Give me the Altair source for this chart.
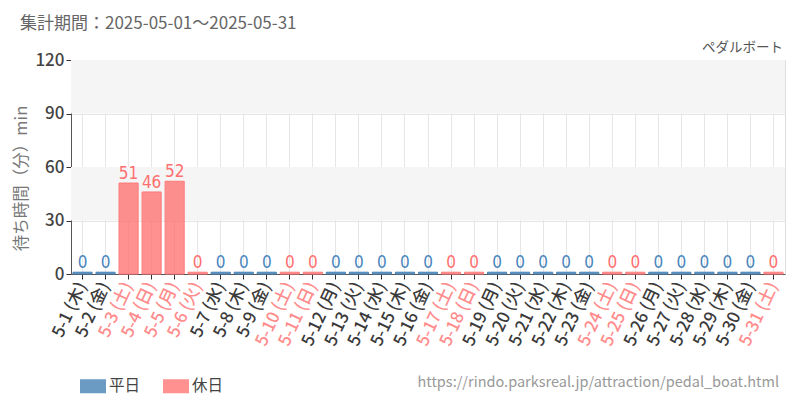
import json
import altair as alt
import pandas as pd

days = ["5-1", "5-2", "5-3", "5-4", "5-5", "5-6", "5-7", "5-8", "5-9", "5-10",
        "5-11", "5-12", "5-13", "5-14", "5-15", "5-16", "5-17", "5-18", "5-19", "5-20",
        "5-21", "5-22", "5-23", "5-24", "5-25", "5-26", "5-27", "5-28", "5-29", "5-30", "5-31"]
weekdays = ["木", "金", "土", "日", "月", "火", "水", "木", "金", "土",
            "日", "月", "火", "水", "木", "金", "土", "日", "月", "火",
            "水", "木", "金", "土", "日", "月", "火", "水", "木", "金", "土"]
day_type = ["平日", "平日", "休日", "休日", "休日", "休日", "平日", "平日", "平日", "休日",
            "休日", "平日", "平日", "平日", "平日", "平日", "休日", "休日", "平日", "平日",
            "平日", "平日", "平日", "休日", "休日", "平日", "平日", "平日", "平日", "平日", "休日"]
wait_min = [0, 0, 51, 46, 52, 0, 0, 0, 0, 0,
            0, 0, 0, 0, 0, 0, 0, 0, 0, 0,
            0, 0, 0, 0, 0, 0, 0, 0, 0, 0, 0]

band_lo = [30, 90]
band_hi = [60, 120]

title_text = "集計期間：2025-05-01～2025-05-31"
name_text = "ペダルボート"
url_text = "https://rindo.parksreal.jp/attraction/pedal_boat.html"
y_title = "待ち時間（分）min"

labels = [f"{d} ({w})" for d, w in zip(days, weekdays)]
df = pd.DataFrame({"label": labels, "type": day_type, "value": wait_min})
holiday_labels = [l for l, t in zip(labels, day_type) if t == "休日"]

FONT = "Noto Sans CJK JP"
NARROW = "DejaVu Sans Condensed, Liberation Sans Narrow, Roboto"
W, H = 714, 214

color_scale = alt.Scale(domain=["平日", "休日"],
                        range=["rgba(70,130,180,0.8)", "rgba(255,99,99,0.7)"])
stroke_scale = alt.Scale(domain=["平日", "休日"], range=["#4682b4", "#ff7a7a"])
text_scale = alt.Scale(domain=["平日", "休日"], range=["#4a86bd", "#ff6f6f"])

label_color_expr = f"indexof({json.dumps(holiday_labels, ensure_ascii=False)}, datum.value) >= 0 ? '#ff8c8c' : '#3a3a3a'"

x_enc = alt.X("label:N", sort=labels,
              scale=alt.Scale(paddingInner=0.17, paddingOuter=0.085),
              axis=alt.Axis(title=None, labelAngle=295, labelAlign="right", labelBaseline="middle",
                            labelFontSize=17, labelFont=FONT, labelFontWeight=500, labelPadding=4,
                            labelColor=alt.expr(label_color_expr),
                            grid=True, gridColor="#e6e6e6", bandPosition=0.5,
                            domainColor="#555555", tickColor="#333333", tickSize=5,
                            labelOverlap=False))

y_scale = alt.Scale(domain=[0, 120], nice=False)

bands_df = pd.DataFrame({"lo": band_lo, "hi": band_hi})
bands = alt.Chart(bands_df).mark_rect(color="#f5f5f5").encode(
    y=alt.Y("lo:Q", scale=y_scale,
            axis=alt.Axis(title=y_title, titleFont=FONT, titleFontSize=16.5, titleColor="#777777",
                          titleFontWeight="normal", titleAngle=270, titleX=-50, titleY=118,
                          titleAlign="center", titleBaseline="middle",
                          values=[0, 30, 60, 90, 120], labelFont=FONT, labelFontSize=17,
                          labelFontWeight=500, labelColor="#444444",
                          grid=True, gridColor="#e6e6e6", domainColor="#555555",
                          tickColor="#333333", tickSize=5, labelPadding=2)),
    y2="hi:Q",
    x=alt.value(0), x2=alt.value(W),
)

base = alt.Chart(df)

bars = base.transform_calculate(disp="max(datum.value, 1)").mark_bar(strokeWidth=1).encode(
    x=x_enc,
    y=alt.Y("disp:Q", scale=y_scale),
    color=alt.Color("type:N", scale=color_scale,
                    legend=alt.Legend(title=None, orient="none", legendX=9, legendY=313,
                                      direction="horizontal",
                                      symbolType="M-1,-0.54L1,-0.54L1,0.54L-1,0.54Z",
                                      symbolSize=676, symbolStrokeWidth=0,
                                      labelFont=FONT, labelFontSize=15.5, labelColor="#444444",
                                      labelOffset=3, labelLimit=200, columnPadding=22)),
    stroke=alt.Stroke("type:N", scale=stroke_scale, legend=None),
)

texts = base.transform_calculate(disp="max(datum.value, 1)").mark_text(
    font=NARROW, fontSize=17, baseline="bottom", dy=0).encode(
    x=alt.X("label:N", sort=labels),
    y=alt.Y("disp:Q", scale=y_scale),
    text="value:Q",
    color=alt.Color("type:N", scale=text_scale, legend=None),
)

ann_title = alt.Chart(pd.DataFrame({"t": [title_text]})).mark_text(
    font=FONT, fontSize=17, color="#666666", align="left", baseline="alphabetic").encode(
    x=alt.value(-51), y=alt.value(-31), text="t:N")
ann_name = alt.Chart(pd.DataFrame({"t": [name_text]})).mark_text(
    font=FONT, fontSize=13.5, color="#555555", align="right", baseline="alphabetic").encode(
    x=alt.value(W - 2), y=alt.value(-8), text="t:N")
ann_url = alt.Chart(pd.DataFrame({"t": [url_text]})).mark_text(
    font=FONT, fontSize=14.5, color="#999999", align="right", baseline="middle").encode(
    x=alt.value(W - 6), y=alt.value(323), text="t:N")

chart = alt.layer(bands, bars, texts, ann_title, ann_name, ann_url).resolve_scale(
    color="independent"
).properties(
    width=W, height=H,
    autosize=alt.AutoSizeParams(type="none"),
    padding={"left": 63, "top": 52, "right": 7, "bottom": 126},
).configure_view(stroke="#e6e6e6").configure(background="white")

chart.save("out.html", embed_options={"renderer": "svg", "actions": False})
